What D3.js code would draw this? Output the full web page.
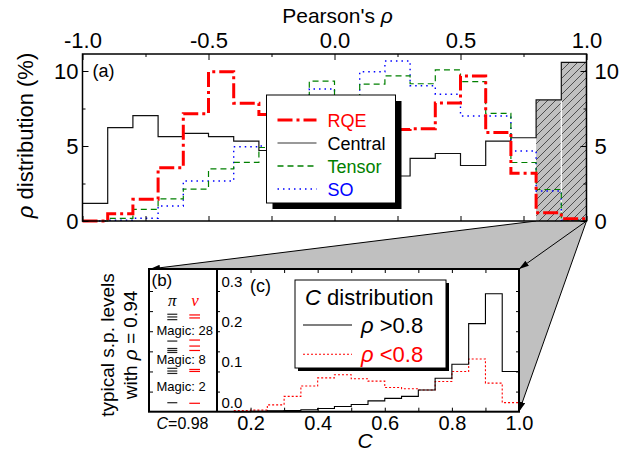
<!DOCTYPE html>
<html>
<head>
<meta charset="utf-8">
<script src="https://cdn.jsdelivr.net/npm/d3@7"></script>
<style>
body { margin: 0; background: #fff; }
svg { display: block; font-family: "Liberation Sans", Arial, sans-serif; }
</style>
</head>
<body>
<svg id="chart" width="621" height="453"></svg>
<script>
// (a) distribution of Pearson's rho, bins of 0.1 (left edges)
var rhoBins = [-1.0, -0.9, -0.8, -0.7, -0.6, -0.5, -0.4, -0.3, -0.2, -0.1,
               0.0, 0.1, 0.2, 0.3, 0.4, 0.5, 0.6, 0.7, 0.8, 0.9];
var rhoEnd = 1.0;
var rqe     = [0, 0.49, 1.45, 3.55, 7.15, 9.95, 7.85, 7.1, 6.8, 6.5, 6.3, 6.2, 6.1, 6.15, 7.87, 9.67, 5.9, 3.18, 0.55, 0.15];
var central = [1.18, 6.22, 7.02, 5.62, 5.84, 5.62, 5.33, 4.7, 4.3, 3.9, 3.5, 3.2, 3.0, 4.18, 4.5, 3.7, 5.33, 5.55, 8.07, 10.58];
var tensor  = [0, 0.18, 0.78, 1.47, 2.13, 3.47, 3.91, 4.9, 6.6, 9.33, 7.6, 9.13, 9.67, 9.15, 10.07, 9.29, 7.18, 3.9, 2.1, 0.05];
var so      = [0, 0.05, 0.18, 1.0, 2.67, 2.67, 4.95, 5.0, 6.3, 8.8, 7.9, 9.95, 10.67, 9.02, 8.45, 7.0, 7.0, 4.67, 2.0, 0.05];
var shadedBins = [0.8, 0.9]; // rho > 0.8, zoomed below

var seriesNames = ['RQE', 'Central', 'Tensor', 'SO'];

// (c) C distribution, bins of 0.05 (left edges)
var cBins = [0.15, 0.2, 0.25, 0.3, 0.35, 0.4, 0.45, 0.5, 0.55, 0.6,
             0.65, 0.7, 0.75, 0.8, 0.85, 0.9, 0.95];
var cEnd = 1.0;
var cHigh = [0, 0.001, 0.002, 0.003, 0.005, 0.008, 0.013, 0.018, 0.027, 0.033,
             0.038, 0.054, 0.083, 0.118, 0.219, 0.293, 0.1];
var cLow  = [0.003, 0.004, 0.017, 0.038, 0.064, 0.084, 0.092, 0.082, 0.076, 0.06,
             0.057, 0.054, 0.075, 0.1, 0.131, 0.071, 0.0225];

// (b) single-particle levels (arbitrary energy, 0 = bottom, 1 = top)
var piLevels = [0.683, 0.664, 0.645, 0.495, 0.443, 0.429, 0.415, 0.304, 0.285, 0.268, 0.063];
var nuLevels = [0.678, 0.657, 0.502, 0.460, 0.429, 0.296, 0.282, 0.059];
var magicLabels = ['Magic: 28', 'Magic: 8', 'Magic: 2'];
var magicPos = [0.537, 0.334, 0.148];

// ticks
var rhoTicks = [-1.0, -0.5, 0.0, 0.5, 1.0];
var rhoMinor = [-0.75, -0.25, 0.25, 0.75];
var pctTicks = [0, 5, 10];
var pctMinor = [2.5, 7.5];
var cTicks = [0.2, 0.4, 0.6, 0.8, 1.0];
var cMinor = [0.2, 0.3, 0.4, 0.5, 0.6, 0.7, 0.8, 0.9];
var cyTicks = [0.0, 0.1, 0.2, 0.3];
var cyMinor = [0.05, 0.1, 0.15, 0.2, 0.25, 0.3];

var svg = d3.select('#chart');

// layout
var A = { left: 82.5, right: 586.5, top: 54, bottom: 221 };
var B = { left: 149, mid: 217, right: 519, top: 269, bottom: 411.7 };

var x = d3.scaleLinear().domain([-1, 1]).range([A.left, A.right]);
var y = d3.scaleLinear().domain([0, 10]).range([A.bottom, 71]);
var cx = d3.scaleLinear().domain([0.1, 1.0]).range([B.mid, B.right]);
var cy = d3.scaleLinear().domain([0, 0.3]).range([B.bottom, 291]);
var by = d3.scaleLinear().domain([0, 1]).range([B.bottom, B.top]);

var defs = svg.append('defs');

var hatch = defs.append('pattern')
    .attr('id', 'hatch')
    .attr('patternUnits', 'userSpaceOnUse')
    .attr('width', 8).attr('height', 8);
hatch.append('rect').attr('width', 8).attr('height', 8).attr('fill', '#c0c0c0');
hatch.append('path')
    .attr('d', 'M-2,2 L2,-2 M0,8 L8,0 M6,10 L10,6')
    .attr('stroke', '#000').attr('stroke-width', 0.6);

defs.append('marker')
    .attr('id', 'arrow')
    .attr('markerUnits', 'userSpaceOnUse')
    .attr('markerWidth', 10).attr('markerHeight', 6)
    .attr('refX', 10).attr('refY', 3)
    .attr('orient', 'auto')
  .append('path')
    .attr('d', 'M0,0 L10,3 L0,6 Z')
    .attr('fill', '#000');

function stepPoints(bins, vals, end) {
    var pts = bins.map(function (b, i) { return [b, vals[i]]; });
    pts.push([end, vals[vals.length - 1]]);
    return pts;
}

/// zoom projection (drawn first, the bottom panel covers it)

var px0 = x(shadedBins[0]), px1 = x(rhoEnd), py0 = y(0);
svg.append('path')
    .attr('d', 'M' + px0 + ',' + py0 + 'L' + px1 + ',' + py0 +
               'L' + B.right + ',' + B.bottom + 'L' + B.right + ',' + B.top +
               'L' + B.left + ',' + B.top + 'Z')
    .attr('fill', '#c0c0c0');

[[px0, py0, B.left + 1, B.top],
 [px1, py0, B.right, B.top],
 [px1, py0, B.right, B.bottom]].forEach(function (l) {
    svg.append('line')
        .attr('x1', l[0]).attr('y1', l[1]).attr('x2', l[2]).attr('y2', l[3])
        .attr('stroke', '#000').attr('stroke-width', 1)
        .attr('marker-end', 'url(#arrow)');
});

/// (a) top panel

var panelA = svg.append('g');

panelA.append('rect')
    .attr('x', A.left).attr('y', A.top)
    .attr('width', A.right - A.left).attr('height', A.bottom - A.top)
    .attr('fill', '#fff');

// shaded rho > 0.8 bars
shadedBins.forEach(function (b) {
    var i = rhoBins.indexOf(b);
    panelA.append('rect')
        .attr('x', x(b)).attr('y', y(central[i]))
        .attr('width', x(b + 0.1) - x(b)).attr('height', y(0) - y(central[i]))
        .attr('fill', 'url(#hatch)');
});
panelA.append('line')
    .attr('x1', x(shadedBins[1])).attr('x2', x(shadedBins[1]))
    .attr('y1', y(0)).attr('y2', y(central[rhoBins.indexOf(shadedBins[0])]))
    .attr('stroke', '#fff').attr('stroke-width', 1.2);

var line = d3.line()
    .x(function (d) { return x(d[0]); })
    .y(function (d) { return y(d[1]); })
    .curve(d3.curveStepAfter);

var styles = {
    RQE:     { data: rqe,     color: '#ff0000', width: 3,   dash: '15,4,3,4' },
    Central: { data: central, color: '#111',    width: 1.2, dash: null },
    Tensor:  { data: tensor,  color: '#008000', width: 1.2, dash: '6,4' },
    SO:      { data: so,      color: '#0000ff', width: 1.4, dash: '1.5,4' }
};

['Central', 'SO', 'Tensor', 'RQE'].forEach(function (name) {
    var s = styles[name];
    panelA.append('path')
        .attr('d', line(stepPoints(rhoBins, s.data, rhoEnd)))
        .attr('fill', 'none')
        .attr('stroke', s.color)
        .attr('stroke-width', s.width)
        .attr('stroke-dasharray', s.dash);
});

panelA.append('rect')
    .attr('x', A.left).attr('y', A.top)
    .attr('width', A.right - A.left).attr('height', A.bottom - A.top)
    .attr('fill', 'none').attr('stroke', '#000').attr('stroke-width', 1.5);

function fmt1(d) { return d.toFixed(1); }

function styleAxis(g, size) {
    g.select('.domain').remove();
    g.selectAll('line').attr('stroke', '#000').attr('stroke-width', 1);
    g.selectAll('text').attr('fill', '#000').attr('font-size', size)
        .attr('font-family', '"Liberation Sans", Arial, sans-serif');
}

panelA.append('g')
    .attr('transform', 'translate(0,' + A.top + ')')
    .call(d3.axisTop(x).tickValues(rhoTicks).tickFormat(fmt1).tickSize(-6).tickPadding(6))
    .call(styleAxis, 22);
panelA.append('g')
    .attr('transform', 'translate(0,' + A.top + ')')
    .call(d3.axisTop(x).tickValues(rhoMinor).tickFormat('').tickSize(-3))
    .call(styleAxis, 22);
panelA.append('g')
    .attr('transform', 'translate(0,' + A.bottom + ')')
    .call(d3.axisBottom(x).tickValues(rhoTicks.concat(rhoMinor)).tickFormat('').tickSize(-5))
    .call(styleAxis, 22);
panelA.append('g')
    .attr('transform', 'translate(' + A.left + ',0)')
    .call(d3.axisLeft(y).tickValues(pctTicks).tickSize(-6).tickPadding(4))
    .call(styleAxis, 22);
panelA.append('g')
    .attr('transform', 'translate(' + A.left + ',0)')
    .call(d3.axisLeft(y).tickValues(pctMinor).tickFormat('').tickSize(-3))
    .call(styleAxis, 22);
panelA.append('g')
    .attr('transform', 'translate(' + A.right + ',0)')
    .call(d3.axisRight(y).tickValues(pctTicks).tickSize(-6).tickPadding(8))
    .call(styleAxis, 22);
panelA.append('g')
    .attr('transform', 'translate(' + A.right + ',0)')
    .call(d3.axisRight(y).tickValues(pctMinor).tickFormat('').tickSize(-3))
    .call(styleAxis, 22);

var title = panelA.append('text')
    .attr('x', x(0) + 3).attr('y', 23)
    .attr('text-anchor', 'middle').attr('font-size', 21);
title.append('tspan').text("Pearson's ");
title.append('tspan').attr('font-style', 'italic').text('\u03c1');

var ylab = panelA.append('text')
    .attr('transform', 'translate(33,' + ((A.top + A.bottom) / 2 - 2) + ') rotate(-90)')
    .attr('text-anchor', 'middle').attr('font-size', 22);
ylab.append('tspan').attr('font-style', 'italic').text('\u03c1');
ylab.append('tspan').text(' distribution (%)');

panelA.append('text')
    .attr('x', A.left + 10).attr('y', 77)
    .attr('font-size', 18).text('(a)');

// legend
var lg = panelA.append('g').attr('transform', 'translate(266.5,95)');
lg.append('rect').attr('x', 6).attr('y', 6).attr('width', 129).attr('height', 108).attr('fill', '#000');
lg.append('rect').attr('width', 129).attr('height', 108)
    .attr('fill', '#fff').attr('stroke', '#000').attr('stroke-width', 1);
seriesNames.forEach(function (name, i) {
    var s = styles[name];
    var yy = 25 + i * 23;
    lg.append('line')
        .attr('x1', 11).attr('x2', 50).attr('y1', yy).attr('y2', yy)
        .attr('stroke', s.color === '#111' ? '#777' : s.color)
        .attr('stroke-width', s.width === 3 ? 3 : 1.4)
        .attr('stroke-dasharray', s.dash);
    lg.append('text')
        .attr('x', 61).attr('y', yy + 6.5)
        .attr('font-size', 18)
        .attr('fill', s.color === '#111' ? '#000' : s.color)
        .text(name);
});

/// bottom panels (b) and (c)

var bot = svg.append('g');

bot.append('rect')
    .attr('x', B.left).attr('y', B.top)
    .attr('width', B.right - B.left).attr('height', B.bottom - B.top)
    .attr('fill', '#fff');

var cline = d3.line()
    .x(function (d) { return cx(d[0]); })
    .y(function (d) { return cy(d[1]); })
    .curve(d3.curveStepAfter);

bot.append('path')
    .attr('d', cline(stepPoints(cBins, cLow, cEnd)))
    .attr('fill', 'none').attr('stroke', '#ff0000')
    .attr('stroke-width', 1.1).attr('stroke-dasharray', '2,2');
bot.append('path')
    .attr('d', cline(stepPoints(cBins, cHigh, cEnd)))
    .attr('fill', 'none').attr('stroke', '#000').attr('stroke-width', 1.1);

// (c) axes
bot.append('g')
    .attr('transform', 'translate(0,' + B.bottom + ')')
    .call(d3.axisBottom(cx).tickValues(cTicks).tickFormat(fmt1).tickSize(0).tickPadding(4))
    .call(styleAxis, 20);
bot.append('g')
    .attr('transform', 'translate(0,' + B.bottom + ')')
    .call(d3.axisBottom(cx).tickValues(cMinor).tickFormat('').tickSize(-4))
    .call(styleAxis, 20);
bot.append('g')
    .attr('transform', 'translate(0,' + B.top + ')')
    .call(d3.axisTop(cx).tickValues(cMinor).tickFormat('').tickSize(-4))
    .call(styleAxis, 20);
bot.append('g')
    .attr('transform', 'translate(' + B.right + ',0)')
    .call(d3.axisLeft(cy).tickValues(cyMinor).tickFormat('').tickSize(3))
    .call(styleAxis, 20);
bot.append('g')
    .attr('transform', 'translate(' + B.mid + ',0)')
    .call(d3.axisRight(cy).tickValues(cyMinor).tickFormat('').tickSize(3))
    .call(styleAxis, 20);
bot.append('g')
    .attr('transform', 'translate(' + B.left + ',0)')
    .call(d3.axisRight(cy).tickValues(cyMinor).tickFormat('').tickSize(4))
    .call(styleAxis, 20);

bot.selectAll('.cy-label')
    .data(cyTicks)
    .enter().append('text')
    .attr('class', 'cy-label')
    .attr('x', B.mid + 4.5)
    .attr('y', function (d) { return cy(d) - 4; })
    .attr('font-size', 15)
    .text(fmt1);

bot.append('text')
    .attr('x', cx(0.55) - 3).attr('y', 448)
    .attr('text-anchor', 'middle').attr('font-size', 21)
    .attr('font-style', 'italic').text('C');

bot.append('text')
    .attr('x', B.mid + 33).attr('y', 291.5)
    .attr('font-size', 18).text('(c)');

// (c) legend
var lc = bot.append('g').attr('transform', 'translate(295,280)');
lc.append('rect').attr('x', 3).attr('y', 3).attr('width', 151).attr('height', 88).attr('fill', '#000');
lc.append('rect').attr('width', 151).attr('height', 88)
    .attr('fill', '#fff').attr('stroke', '#000').attr('stroke-width', 1);
var lt = lc.append('text').attr('x', 10).attr('y', 25).attr('font-size', 22);
lt.append('tspan').attr('font-style', 'italic').text('C');
lt.append('tspan').text(' distribution');

[{ label: '>0.8', color: '#000', dash: null },
 { label: '<0.8', color: '#ff0000', dash: '2,2' }].forEach(function (e, i) {
    var yy = 45 + i * 29.3;
    lc.append('line')
        .attr('x1', 8).attr('x2', 57).attr('y1', yy).attr('y2', yy)
        .attr('stroke', e.color).attr('stroke-width', 1.1)
        .attr('stroke-dasharray', e.dash);
    var t = lc.append('text')
        .attr('x', 66).attr('y', yy + 8)
        .attr('font-size', 22).attr('fill', e.color);
    t.append('tspan').attr('font-style', 'italic').text('\u03c1');
    t.append('tspan').text(' ' + e.label);
});

// (b) levels
bot.append('text')
    .attr('x', B.left + 2.5).attr('y', 286)
    .attr('font-size', 17).text('(b)');

bot.append('text')
    .attr('x', 172.3).attr('y', 306)
    .attr('text-anchor', 'middle')
    .attr('font-family', '"Liberation Serif", "Times New Roman", serif')
    .attr('font-style', 'italic').attr('font-size', 17)
    .text('\u03c0');
bot.append('text')
    .attr('x', 195).attr('y', 306)
    .attr('text-anchor', 'middle')
    .attr('font-family', '"Liberation Serif", "Times New Roman", serif')
    .attr('font-style', 'italic').attr('font-size', 17)
    .attr('fill', '#ff0000')
    .text('\u03bd');

bot.selectAll('.pi-level')
    .data(piLevels)
    .enter().append('line')
    .attr('class', 'pi-level')
    .attr('x1', 167.3).attr('x2', 177.3)
    .attr('y1', function (d) { return by(d); })
    .attr('y2', function (d) { return by(d); })
    .attr('stroke', '#222').attr('stroke-width', 1.2);

bot.selectAll('.nu-level')
    .data(nuLevels)
    .enter().append('line')
    .attr('class', 'nu-level')
    .attr('x1', 189.3).attr('x2', 200)
    .attr('y1', function (d) { return by(d); })
    .attr('y2', function (d) { return by(d); })
    .attr('stroke', '#ff0000').attr('stroke-width', 1.2);

bot.selectAll('.magic')
    .data(magicLabels)
    .enter().append('text')
    .attr('class', 'magic')
    .attr('x', 156.5)
    .attr('y', function (d, i) { return by(magicPos[i]); })
    .attr('font-size', 13)
    .text(function (d) { return d; });

var cval = bot.append('text')
    .attr('x', 182.5).attr('y', 428.5)
    .attr('text-anchor', 'middle').attr('font-size', 16);
cval.append('tspan').attr('font-style', 'italic').text('C');
cval.append('tspan').text('=0.98');

bot.append('text')
    .attr('transform', 'translate(114,345) rotate(-90)')
    .attr('text-anchor', 'middle').attr('font-size', 19)
    .text('typical s.p. levels');
var bl2 = bot.append('text')
    .attr('transform', 'translate(137,345) rotate(-90)')
    .attr('text-anchor', 'middle').attr('font-size', 19);
bl2.append('tspan').text('with ');
bl2.append('tspan').attr('font-style', 'italic').text('\u03c1');
bl2.append('tspan').text(' = 0.94');

// frames
bot.append('rect')
    .attr('x', B.left).attr('y', B.top)
    .attr('width', B.right - B.left).attr('height', B.bottom - B.top)
    .attr('fill', 'none').attr('stroke', '#000').attr('stroke-width', 2);
bot.append('line')
    .attr('x1', B.mid).attr('x2', B.mid).attr('y1', B.top).attr('y2', B.bottom)
    .attr('stroke', '#000').attr('stroke-width', 2);
</script>
</body>
</html>
